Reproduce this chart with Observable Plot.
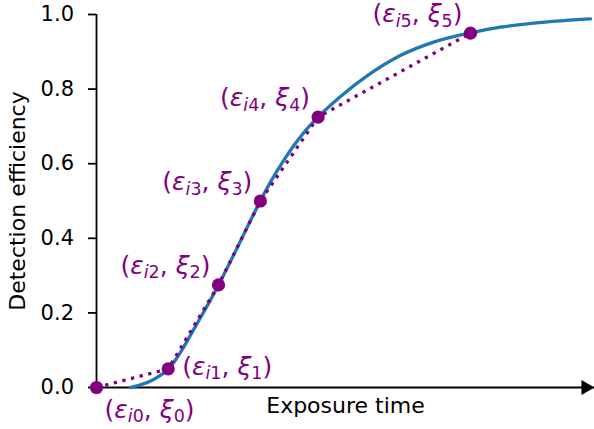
<!DOCTYPE html>
<html><head><meta charset="utf-8">
<script src="https://cdn.jsdelivr.net/npm/d3@7"></script>
<script src="https://cdn.jsdelivr.net/npm/@observablehq/plot@0.6"></script>
<style>body{margin:0;background:#fff}</style>
</head><body><div id="chart"></div>
<script>
// Smooth efficiency curve
const curveX = [0.68, 0.74, 0.88, 1.14, 1.29, 1.45, 1.69, 1.89, 2.09, 2.29, 2.45, 2.69, 2.89, 3.09, 3.29, 3.49, 3.76, 3.96, 4.16, 4.45, 4.90, 5.44, 6.10, 6.77, 7.51, 8.11, 8.78, 9.32, 9.92];
const curveY = [0.000, 0.002, 0.007, 0.021, 0.033, 0.050, 0.095, 0.141, 0.188, 0.235, 0.275, 0.338, 0.392, 0.447, 0.500, 0.550, 0.609, 0.648, 0.683, 0.725, 0.780, 0.836, 0.890, 0.926, 0.951, 0.966, 0.977, 0.983, 0.988];
// Sampled points (epsilon_ik, xi_k)
const sampleX = [0, 1.44, 2.45, 3.29, 4.45, 7.51];
const sampleY = [0, 0.05, 0.275, 0.5, 0.725, 0.95];
const sampleIdx = ["0", "1", "2", "3", "4", "5"];
const yTicks = [0, 0.2, 0.4, 0.6, 0.8, 1.0];
const xMax = 10;
const xLabel = "Exposure time";
const yLabel = "Detection efficiency";

const BLUE = "#1f77b4", PURPLE = "#800080";
const LABEL_FS = 25;

const curve = curveX.map((x, i) => ({x, y: curveY[i]}));
const pts = sampleX.map((x, i) => ({x, y: sampleY[i], k: sampleIdx[i]}));
const lab = d => `(εi${d.k}, ξ${d.k})`;

const chart = Plot.plot({
  width: 594, height: 429,
  marginLeft: 96, marginRight: 0, marginTop: 14, marginBottom: 42,
  style: {fontFamily: "'DejaVu Sans'", fontSize: "21px", background: "white", color: "black", overflow: "visible"},
  x: {domain: [0, xMax], axis: null},
  y: {domain: [0, 1], axis: null},
  marks: [
    Plot.ruleX([0], {stroke: "black", strokeWidth: 1.8}),
    Plot.ruleY([0], {stroke: "black", strokeWidth: 1.8}),
    Plot.dot([xMax], {x: d => d, y: () => 0, symbol: "triangle", rotate: 90, r: 5.6, dx: -8.7, fill: "black", stroke: "none"}),
    Plot.axisY({ticks: yTicks, tickFormat: d3.format(".1f"), tickSize: 8, tickPadding: 14.5, strokeWidth: 1.8, fontSize: 21, label: null}),
    Plot.text([yLabel], {frameAnchor: "left", textAnchor: "middle", dx: -79, rotate: -90, fontSize: 22, text: d => d, fill: "black"}),
    Plot.text([xLabel], {frameAnchor: "bottom", textAnchor: "middle", dy: 25, fontSize: 22, text: d => d, fill: "black"}),
    Plot.line(curve, {x: "x", y: "y", stroke: BLUE, strokeWidth: 3.3, curve: "monotone-x"}),
    Plot.line(pts, {x: "x", y: "y", stroke: PURPLE, strokeWidth: 3.3, strokeDasharray: "3.3,5.6", strokeLinecap: "butt"}),
    Plot.dot(pts, {x: "x", y: "y", r: 6.6, fill: PURPLE, stroke: "none"}),
    Plot.text(pts.slice(0, 1), {x: "x", y: "y", text: lab, textAnchor: "start", dx: 8, dy: 22, fontSize: LABEL_FS, fill: PURPLE}),
    Plot.text(pts.slice(1, 2), {x: "x", y: "y", text: lab, textAnchor: "start", dx: 14, dy: -2, fontSize: LABEL_FS, fill: PURPLE}),
    Plot.text(pts.slice(2), {x: "x", y: "y", text: lab, textAnchor: "end", dx: -8, dy: -19, fontSize: LABEL_FS, fill: PURPLE})
  ]
});

// Rebuild the math-style labels with italic greek letters and subscripts
const NS = "http://www.w3.org/2000/svg";
const SUB = LABEL_FS * 0.7, SHIFT = 4.5;
chart.querySelectorAll("text").forEach(t => {
  const m = /^\(εi(\d), ξ(\d)\)$/.exec(t.textContent);
  if (!m) return;
  t.textContent = "";
  const add = (s, a = {}) => {
    const sp = document.createElementNS(NS, "tspan");
    sp.textContent = s;
    for (const k in a) sp.setAttribute(k, a[k]);
    t.appendChild(sp);
  };
  add("(");
  add("ε", {"font-style": "italic"});
  add("i", {"font-style": "italic", "font-size": SUB + "px", dy: SHIFT + "px"});
  add(m[1], {"font-size": SUB + "px"});
  add(", ", {dy: -SHIFT + "px"});
  add("ξ", {"font-style": "italic"});
  add(m[2], {"font-size": SUB + "px", dy: SHIFT + "px"});
  add(")", {dy: -SHIFT + "px"});
});
document.getElementById("chart").appendChild(chart);
</script>
</body></html>
